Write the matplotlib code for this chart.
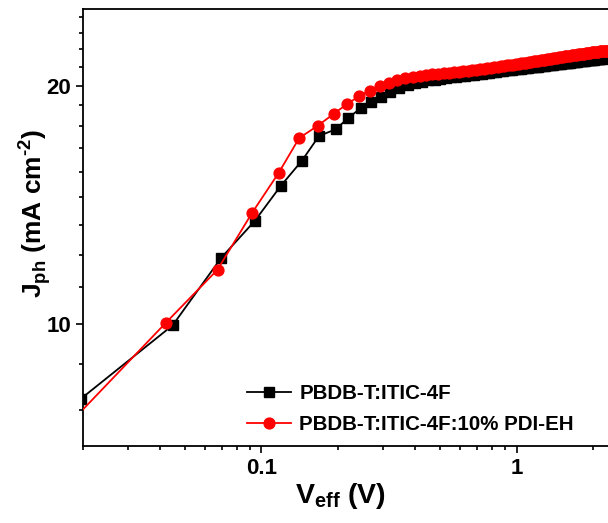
import matplotlib
matplotlib.use("Agg")
import matplotlib.pyplot as plt
from matplotlib.ticker import FixedLocator, NullFormatter, LogLocator

plt.rcParams['font.family'] = ['Liberation Sans', 'DejaVu Sans']
plt.rcParams['font.weight'] = 'bold'
plt.rcParams['mathtext.fontset'] = 'custom'
plt.rcParams['mathtext.rm'] = 'Liberation Sans:bold'
plt.rcParams['mathtext.bf'] = 'Liberation Sans:bold'

# PBDB-T:ITIC-4F
v_ref = [0.0196, 0.0449, 0.0696, 0.0943, 0.1190, 0.1441, 0.1681, 0.1954, 0.2190, 0.2449,
         0.2688, 0.2937, 0.3191, 0.3474, 0.3754, 0.4005, 0.4259, 0.4513, 0.4767, 0.5021,
         0.5275, 0.5529, 0.5783, 0.6037, 0.6291, 0.6545, 0.6799, 0.7053, 0.7307, 0.7561,
         0.7815, 0.8069, 0.8323, 0.8577, 0.8831, 0.9085, 0.9339, 0.9593, 0.9847, 1.0101,
         1.0355, 1.0609, 1.0863, 1.1117, 1.1371, 1.1625, 1.1879, 1.2133, 1.2387, 1.2641,
         1.2895, 1.3149, 1.3403, 1.3657, 1.3911, 1.4165, 1.4419, 1.4673, 1.4927, 1.5181,
         1.5435, 1.5689, 1.5943, 1.6197, 1.6451, 1.6705, 1.6959, 1.7213, 1.7467, 1.7721,
         1.7975, 1.8229, 1.8483, 1.8737, 1.8991, 1.9245, 1.9499, 1.9753, 2.0007, 2.0261,
         2.0515, 2.0769, 2.1023, 2.1277, 2.1531, 2.1785, 2.2039, 2.2293, 2.2547, 2.2801,
         2.3055]
j_ref = [8.03, 9.95, 12.11, 13.49, 14.93, 16.07, 17.27, 17.61, 18.20, 18.73,
         19.09, 19.37, 19.62, 19.84, 20.02, 20.14, 20.23, 20.30, 20.35, 20.40,
         20.44, 20.48, 20.52, 20.55, 20.59, 20.62, 20.65, 20.68, 20.71, 20.74,
         20.77, 20.80, 20.82, 20.85, 20.87, 20.90, 20.92, 20.94, 20.97, 20.99,
         21.01, 21.03, 21.05, 21.07, 21.09, 21.11, 21.13, 21.14, 21.16, 21.18,
         21.20, 21.21, 21.23, 21.24, 21.26, 21.28, 21.29, 21.31, 21.32, 21.34,
         21.35, 21.36, 21.38, 21.39, 21.41, 21.42, 21.43, 21.44, 21.46, 21.47,
         21.48, 21.49, 21.51, 21.52, 21.53, 21.54, 21.55, 21.56, 21.58, 21.59,
         21.60, 21.61, 21.62, 21.63, 21.64, 21.65, 21.66, 21.67, 21.68, 21.69,
         21.70]

# PBDB-T:ITIC-4F:10% PDI-EH
v_pdi = [0.0172, 0.0422, 0.0673, 0.0920, 0.1167, 0.1407, 0.1665, 0.1919, 0.2168, 0.2412,
         0.2652, 0.2916, 0.3148, 0.3399, 0.3653, 0.3929, 0.4172, 0.4422, 0.4672, 0.4922,
         0.5172, 0.5422, 0.5672, 0.5922, 0.6172, 0.6422, 0.6672, 0.6922, 0.7172, 0.7422,
         0.7672, 0.7922, 0.8172, 0.8422, 0.8672, 0.8922, 0.9172, 0.9422, 0.9672, 0.9922,
         1.0172, 1.0422, 1.0672, 1.0922, 1.1172, 1.1422, 1.1672, 1.1922, 1.2172, 1.2422,
         1.2672, 1.2922, 1.3172, 1.3422, 1.3672, 1.3922, 1.4172, 1.4422, 1.4672, 1.4922,
         1.5172, 1.5422, 1.5672, 1.5922, 1.6172, 1.6422, 1.6672, 1.6922, 1.7172, 1.7422,
         1.7672, 1.7922, 1.8172, 1.8422, 1.8672, 1.8922, 1.9172, 1.9422, 1.9672, 1.9922,
         2.0172, 2.0422, 2.0672, 2.0922, 2.1172, 2.1422, 2.1672, 2.1922, 2.2172, 2.2422,
         2.2672, 2.2922, 2.3172]
j_pdi = [7.40, 10.02, 11.70, 13.81, 15.50, 17.17, 17.80, 18.42, 18.96, 19.39,
         19.71, 19.95, 20.15, 20.30, 20.42, 20.51, 20.59, 20.63, 20.66, 20.70,
         20.73, 20.76, 20.79, 20.82, 20.86, 20.89, 20.92, 20.95, 20.98, 21.01,
         21.04, 21.07, 21.10, 21.12, 21.15, 21.18, 21.21, 21.23, 21.26, 21.29,
         21.31, 21.34, 21.36, 21.39, 21.41, 21.44, 21.46, 21.48, 21.51, 21.53,
         21.55, 21.57, 21.59, 21.62, 21.64, 21.66, 21.68, 21.70, 21.72, 21.73,
         21.75, 21.77, 21.79, 21.81, 21.82, 21.84, 21.86, 21.87, 21.89, 21.91,
         21.92, 21.94, 21.95, 21.96, 21.98, 21.99, 22.00, 22.02, 22.03, 22.04,
         22.05, 22.06, 22.07, 22.08, 22.09, 22.10, 22.11, 22.12, 22.13, 22.14,
         22.15, 22.15, 22.16]

y_major = [10, 20]
y_minor = [7.78, 8.89, 11.11, 12.22, 13.33, 14.44, 15.56, 16.67, 17.78, 18.89,
           21.11, 22.22, 23.33, 24.44]
x_major = [0.1, 1]

fig = plt.figure(figsize=(6.08, 5.23), dpi=100)
ax = fig.add_axes([83/608, 1 - 446/523, 1 - 83/608, (446 - 9)/523])

ax.plot(v_ref, j_ref, color='black', marker='s', markersize=7, linewidth=1.3,
        label='PBDB-T:ITIC-4F', zorder=2)
ax.plot(v_pdi, j_pdi, color='#ff0000', marker='o', markersize=7.8, linewidth=1.3,
        label='PBDB-T:ITIC-4F:10% PDI-EH', zorder=3)

ax.set_xscale('log')
ax.set_yscale('log')
ax.set_xlim(0.02, 2.28)
ax.set_ylim(7, 25)

ax.xaxis.set_major_locator(FixedLocator(x_major))
ax.xaxis.set_minor_locator(LogLocator(base=10, subs=(2, 3, 4, 5, 6, 7, 8, 9)))
ax.set_xticklabels(['0.1', '1'])
ax.xaxis.set_minor_formatter(NullFormatter())
ax.yaxis.set_major_locator(FixedLocator(y_major))
ax.yaxis.set_minor_locator(FixedLocator(y_minor))
ax.set_yticklabels(['10', '20'])
ax.yaxis.set_minor_formatter(NullFormatter())

ax.tick_params(which='both', direction='out', width=1.2, top=False, right=False,
               labelsize=16)
ax.tick_params(which='major', length=5)
ax.tick_params(which='minor', length=2.6)
ax.tick_params(axis='x', which='major', pad=4)
ax.tick_params(axis='y', which='major', pad=3.5)
for lbl in ax.get_xticklabels() + ax.get_yticklabels():
    lbl.set_fontweight('bold')

for s in ['left', 'bottom', 'top']:
    ax.spines[s].set_linewidth(1.3)
ax.spines['right'].set_visible(False)

ax.set_xlabel(r'V$_{\mathregular{eff}}$ (V)', fontsize=20.5, fontweight='bold')
ax.xaxis.set_label_coords(0.491, -0.081)
ax.set_ylabel(r'J$_{\mathregular{ph}}$ (mA cm$^{\text{-2}}$)', fontsize=19,
              fontweight='bold')
ax.yaxis.set_label_coords(-0.057, 0.532)

ax.legend(loc='upper left', bbox_to_anchor=(247/608, 1 - 384/523),
          bbox_transform=fig.transFigure, frameon=False,
          prop={'weight': 'bold', 'size': 14.8}, handlelength=2.15,
          handletextpad=0.4, labelspacing=0.6, borderpad=0, borderaxespad=0)

fig.savefig('out.png', dpi=100)
